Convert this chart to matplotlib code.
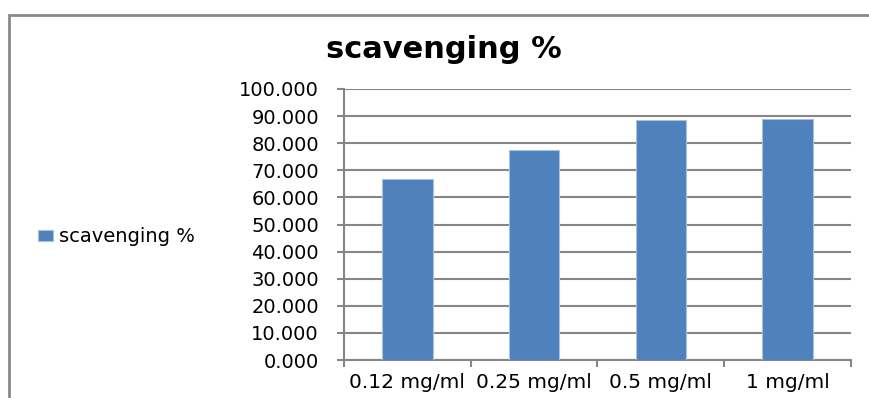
import numpy as np
import matplotlib
matplotlib.use("Agg")
import matplotlib.pyplot as plt
from matplotlib.patches import Rectangle
from matplotlib.ticker import FixedLocator, FormatStrFormatter


concentrations = ["0.12 mg/ml", "0.25 mg/ml", "0.5 mg/ml", "1 mg/ml"]
scavenging = [66.8, 77.5, 88.4, 88.8]
series_name = "scavenging %"

y_ticks = np.arange(0, 101, 10)

BAR_COLOR = "#4F81BD"
GRID_COLOR = "#868686"

plt.rcParams["font.family"] = ["DejaVu Sans"]

fig = plt.figure(figsize=(8.7, 3.98), dpi=100)
ax = fig.add_axes([344 / 870, 1 - 360 / 398, 507 / 870, 271 / 398])

x = np.arange(len(concentrations))
ax.bar(x, scavenging, width=0.4, color=BAR_COLOR, edgecolor="#A9C1DF",
       linewidth=0.8, label=series_name, zorder=3)

ax.set_xlim(-0.5, len(concentrations) - 0.5)
ax.set_ylim(0, 100)

# y axis: gridlines at every 10, three decimal labels
ax.set_yticks(y_ticks)
ax.yaxis.set_major_formatter(FormatStrFormatter("%.3f"))
ax.yaxis.grid(True, color=GRID_COLOR, linewidth=1.5, zorder=0)
ax.tick_params(axis="y", length=5, width=1.5, color=GRID_COLOR, pad=13,
               labelsize=14)

# x axis: labels at bar centres, tick marks between categories
ax.set_xticks(x)
ax.set_xticklabels(concentrations)
ax.xaxis.set_minor_locator(FixedLocator(np.arange(-0.5, len(concentrations), 1)))
ax.tick_params(axis="x", which="major", length=0, pad=9, labelsize=14.5)
ax.tick_params(axis="x", which="minor", length=5, width=1.5, color=GRID_COLOR)

for side in ["top", "right"]:
    ax.spines[side].set_visible(False)
for side in ["left", "bottom"]:
    ax.spines[side].set_color(GRID_COLOR)
    ax.spines[side].set_linewidth(1.5)

fig.text(444 / 870, 1 - 49 / 398, series_name, ha="center", va="center",
         fontsize=22, fontweight="bold")

fig.legend(loc="center left", bbox_to_anchor=(28 / 870, 1 - 237 / 398),
           frameon=False, fontsize=14, handlelength=0.8, handleheight=0.55,
           handletextpad=0.3, borderpad=0)

# outer chart frame, cut off at the right and bottom
fig.patches.append(Rectangle((9 / 870, -0.1), 1.0, 1 - 15 / 398 + 0.1,
                             transform=fig.transFigure, fill=False,
                             edgecolor="#8A8A8A", linewidth=2.0,
                             clip_on=False))

fig.savefig("out.png", dpi=100)
